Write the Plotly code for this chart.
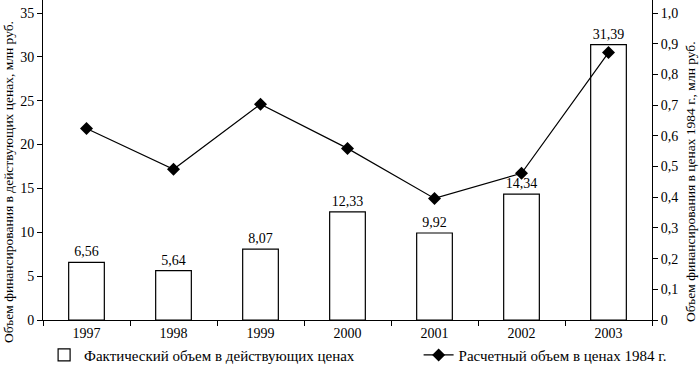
import plotly.graph_objects as go

years = ["1997", "1998", "1999", "2000", "2001", "2002", "2003"]
actual = [6.56, 5.64, 8.07, 12.33, 9.92, 14.34, 31.39]
calc1984 = [0.624, 0.491, 0.703, 0.559, 0.396, 0.478, 0.871]

left_ticks = [0, 5, 10, 15, 20, 25, 30, 35]
right_ticks = [0, 0.1, 0.2, 0.3, 0.4, 0.5, 0.6, 0.7, 0.8, 0.9, 1.0]
right_labels = ["0"] + [f"{v:.1f}".replace(".", ",") for v in right_ticks[1:]]
bar_labels = [f"{v:.2f}".replace(".", ",") for v in actual]

left_title = "Объем финансирования в действующих ценах, млн руб."
right_title = "Объем финансирования в ценах 1984 г., млн руб."

FONT = "Liberation Serif"

fig = go.Figure()
fig.add_trace(go.Bar(
    x=years, y=actual, name="Фактический объем в действующих ценах",
    marker=dict(color="white", line=dict(color="black", width=1.2)),
    width=0.41, text=bar_labels, textposition="outside",
    textfont=dict(family=FONT, size=14, color="black"), cliponaxis=False,
    legend="legend",
))
fig.add_trace(go.Scatter(
    x=years, y=calc1984, name="Расчетный объем в ценах 1984 г.", yaxis="y2",
    mode="lines+markers", line=dict(color="black", width=1.2),
    marker=dict(symbol="diamond", size=10, color="black"),
    legend="legend2",
))

ymax = 35 * 320 / 307
fig.update_layout(
    width=700, height=365,
    margin=dict(l=43, r=48, t=0, b=45, autoexpand=False),
    paper_bgcolor="white", plot_bgcolor="white",
    font=dict(family=FONT, size=14, color="black"),
    showlegend=True,
    legend=dict(orientation="h", xref="container", yref="container",
                x=0.063, y=0.027, xanchor="left", yanchor="middle",
                bgcolor="rgba(0,0,0,0)", font=dict(family=FONT, size=15)),
    legend2=dict(orientation="h", xref="container", yref="container",
                 x=0.598, y=0.027, xanchor="left", yanchor="middle",
                 bgcolor="rgba(0,0,0,0)", font=dict(family=FONT, size=15)),
    xaxis=dict(showline=True, linecolor="black", linewidth=1, ticks="outside",
               tickson="boundaries", ticklen=5, tickcolor="black",
               showgrid=False, tickfont=dict(family=FONT, size=14)),
    yaxis=dict(range=[0, ymax], showline=True, linecolor="black", linewidth=1,
               ticks="outside", ticklen=5, tickcolor="black", showgrid=False,
               zeroline=False, tickvals=left_ticks,
               tickfont=dict(family=FONT, size=14)),
    yaxis2=dict(range=[0, ymax / 35], overlaying="y", side="right", showline=True,
                linecolor="black", linewidth=1, ticks="outside", ticklen=5,
                tickcolor="black", showgrid=False, zeroline=False,
                tickvals=right_ticks, ticktext=right_labels,
                tickfont=dict(family=FONT, size=14)),
    bargap=0.59,
    annotations=[
        dict(text=left_title, textangle=-90, xref="paper", yref="paper",
             x=-35 / 609, y=0.5 - 22 / 320, xanchor="center", yanchor="middle",
             showarrow=False, font=dict(family=FONT, size=13.5)),
        dict(text=right_title, textangle=-90, xref="paper", yref="paper",
             x=1 + 38 / 609, y=0.5 - 22 / 320, xanchor="center", yanchor="middle",
             showarrow=False, font=dict(family=FONT, size=13.5)),
    ],
)
fig.write_html("out.html", config={"displayModeBar": False},
               post_script="document.body.style.margin='0';document.body.style.padding='0';")
